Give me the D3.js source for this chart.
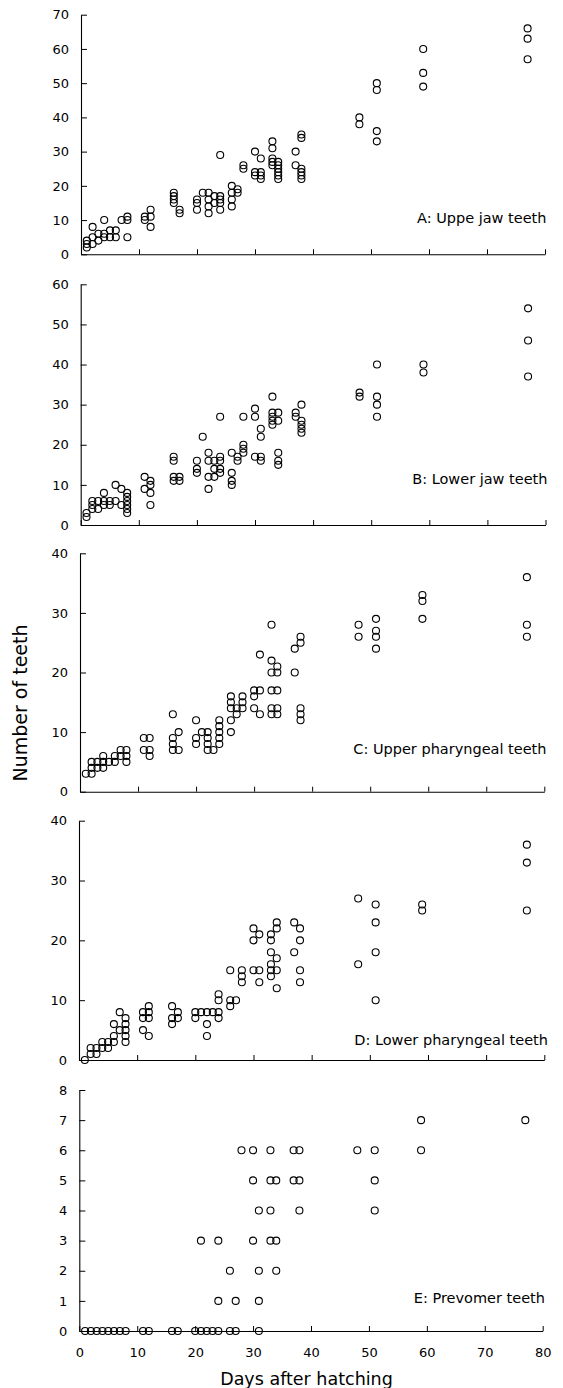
<!DOCTYPE html>
<html>
<head>
<meta charset="utf-8">
<script src="https://cdn.jsdelivr.net/npm/d3@7"></script>
<style>
  html, body { margin: 0; padding: 0; background: #fff; }
  svg { display: block; }
  text { font-family: "DejaVu Sans", sans-serif; fill: #000; }
</style>
</head>
<body>
<svg id="chart" width="563" height="1388"></svg>
<script>
// ---- Data: [day after hatching, number of teeth] ----
const upperJaw = [
  [1,2],[1,3],[1,4],[2,3],[2,5],[2,8],[3,4],[3,6],[4,5],[4,6],[4,10],[5,5],[5,7],[6,5],[6,7],[7,10],
  [8,5],[8,10],[8,11],[11,10],[11,11],[12,8],[12,11],[12,13],
  [16,15],[16,16],[16,17],[16,18],[17,12],[17,13],[20,13],[20,15],[20,16],[21,18],
  [22,12],[22,14],[22,16],[22,18],[23,15],[23,17],[24,13],[24,15],[24,16],[24,17],[24,29],
  [26,14],[26,16],[26,18],[26,20],[27,18],[27,19],[28,25],[28,26],[30,23],[30,24],[30,30],
  [31,22],[31,23],[31,24],[31,28],[33,26],[33,27],[33,28],[33,31],[33,33],
  [34,22],[34,23],[34,24],[34,25],[34,26],[34,27],[37,26],[37,30],
  [38,22],[38,23],[38,24],[38,25],[38,34],[38,35],[48,38],[48,40],
  [51,33],[51,36],[51,48],[51,50],[59,49],[59,53],[59,60],[77,57],[77,63],[77,66]
];
const lowerJaw = [
  [1,2],[1,3],[2,4],[2,5],[2,6],[3,4],[3,6],[4,5],[4,6],[4,8],[5,5],[5,6],[6,6],[6,10],[7,5],[7,9],
  [8,3],[8,4],[8,5],[8,6],[8,7],[8,8],[11,9],[11,12],[12,5],[12,8],[12,10],[12,11],
  [16,11],[16,12],[16,16],[16,17],[17,11],[17,12],[20,13],[20,14],[20,16],[21,22],
  [22,9],[22,12],[22,16],[22,18],[23,12],[23,14],[23,16],[24,13],[24,14],[24,16],[24,17],[24,27],
  [26,10],[26,11],[26,13],[26,18],[27,16],[27,17],[28,18],[28,19],[28,20],[28,27],
  [30,17],[30,27],[30,29],[31,16],[31,17],[31,22],[31,24],[33,25],[33,26],[33,27],[33,28],[33,32],
  [34,15],[34,16],[34,18],[34,26],[34,28],[37,27],[37,28],[38,23],[38,24],[38,25],[38,26],[38,30],
  [48,32],[48,33],[51,27],[51,30],[51,32],[51,40],[59,38],[59,40],[77,37],[77,46],[77,54]
];
const upperPharyngeal = [
  [1,3],[2,3],[2,4],[2,5],[3,4],[3,5],[4,4],[4,5],[4,6],[5,5],[6,5],[6,6],[7,6],[7,7],
  [8,5],[8,6],[8,7],[11,7],[11,9],[12,6],[12,7],[12,9],
  [16,7],[16,8],[16,9],[16,13],[17,7],[17,10],[20,8],[20,9],[20,12],[21,10],
  [22,7],[22,8],[22,9],[22,10],[23,7],[24,8],[24,9],[24,10],[24,11],[24,12],
  [26,10],[26,12],[26,14],[26,15],[26,16],[27,13],[27,14],[28,14],[28,15],[28,16],
  [30,14],[30,16],[30,17],[31,13],[31,17],[31,23],[33,13],[33,14],[33,17],[33,20],[33,22],[33,28],
  [34,13],[34,14],[34,17],[34,20],[34,21],[37,20],[37,24],[38,12],[38,13],[38,14],[38,25],[38,26],
  [48,26],[48,28],[51,24],[51,26],[51,27],[51,29],[59,29],[59,32],[59,33],[77,26],[77,28],[77,36]
];
const lowerPharyngeal = [
  [1,0],[2,1],[2,2],[3,1],[3,2],[4,2],[4,3],[5,2],[5,3],[6,3],[6,4],[6,6],[7,5],[7,8],
  [8,3],[8,4],[8,5],[8,6],[8,7],[11,5],[11,7],[11,8],[12,4],[12,7],[12,8],[12,9],
  [16,6],[16,7],[16,9],[17,7],[17,8],[20,7],[20,8],[21,8],[22,4],[22,6],[22,8],[23,8],
  [24,7],[24,8],[24,10],[24,11],[26,9],[26,10],[26,15],[27,10],[28,13],[28,14],[28,15],
  [30,15],[30,20],[30,22],[31,13],[31,15],[31,21],[33,14],[33,15],[33,16],[33,18],[33,20],[33,21],
  [34,12],[34,15],[34,17],[34,22],[34,23],[37,18],[37,23],[38,13],[38,15],[38,20],[38,22],
  [48,16],[48,27],[51,10],[51,18],[51,23],[51,26],[59,25],[59,26],[77,25],[77,33],[77,36]
];
const prevomer = [
  [1,0],[2,0],[3,0],[4,0],[5,0],[6,0],[7,0],[8,0],[11,0],[12,0],[16,0],[17,0],[20,0],[21,0],
  [22,0],[23,0],[24,0],[26,0],[27,0],[31,0],
  [21,3],[24,1],[24,3],[26,2],[27,1],[28,6],[30,3],[30,5],[30,6],[31,1],[31,2],[31,4],
  [33,3],[33,4],[33,5],[33,6],[34,2],[34,3],[34,5],[37,5],[37,6],[38,4],[38,5],[38,6],
  [48,6],[51,4],[51,5],[51,6],[59,6],[59,7],[77,7]
];

// ---- Tick labels & texts ----
const xTicks = [0, 10, 20, 30, 40, 50, 60, 70, 80];
const yTicksA = [0, 10, 20, 30, 40, 50, 60, 70];
const yTicksB = [0, 10, 20, 30, 40, 50, 60];
const yTicksC = [0, 10, 20, 30, 40];
const yTicksD = [0, 10, 20, 30, 40];
const yTicksE = [0, 1, 2, 3, 4, 5, 6, 7, 8];
const panelLabels = ["A: Uppe jaw teeth", "B: Lower jaw teeth", "C: Upper pharyngeal teeth",
                     "D: Lower pharyngeal teeth", "E: Prevomer teeth"];
const xTitle = "Days after hatching";
const yTitle = "Number of teeth";

// ---- Layout (positions only) ----
const layout = [
  { data: upperJaw,        ticks: yTicksA, left: 81,   right: 545,   top: 14.7,  bottom: 254.3, labelX: 546.5, labelY: 222.7 },
  { data: lowerJaw,        ticks: yTicksB, left: 80.7, right: 545.5, top: 284.3, bottom: 525,   labelX: 547.5, labelY: 484 },
  { data: upperPharyngeal, ticks: yTicksC, left: 80,   right: 544.3, top: 553.3, bottom: 791.7, labelX: 546.5, labelY: 754 },
  { data: lowerPharyngeal, ticks: yTicksD, left: 79,   right: 544.3, top: 820.7, bottom: 1060,  labelX: 548,   labelY: 1045 },
  { data: prevomer,        ticks: yTicksE, left: 79.3, right: 542.7, top: 1090,  bottom: 1331,  labelX: 545,   labelY: 1303.3 }
];

const svg = d3.select("#chart");

layout.forEach((p, i) => {
  const yMax = p.ticks[p.ticks.length - 1];
  const x = d3.scaleLinear().domain([0, 80]).range([p.left, p.right]);
  const y = d3.scaleLinear().domain([0, yMax]).range([p.bottom, p.top]);
  const g = svg.append("g");

  const isLast = i === layout.length - 1;
  const xAxis = d3.axisBottom(x).tickValues(xTicks).tickSizeInner(-5).tickSizeOuter(0)
    .tickPadding(17).tickFormat(isLast ? d3.format("d") : () => "");
  const gx = g.append("g").attr("transform", `translate(0,${p.bottom})`).call(xAxis);

  const yAxis = d3.axisLeft(y).tickValues(p.ticks).tickSizeInner(-6).tickSizeOuter(0)
    .tickPadding(12).tickFormat(d3.format("d"));
  const gy = g.append("g").attr("transform", `translate(${p.left},0)`).call(yAxis);

  [gx, gy].forEach(a => {
    a.select(".domain").attr("stroke", "#000").attr("stroke-width", 1.1);
    a.selectAll(".tick line").attr("stroke", "#000").attr("stroke-width", 1);
    a.selectAll(".tick text").attr("font-family", "DejaVu Sans").attr("font-size", 13).attr("fill", "#000");
  });

  g.append("g").selectAll("circle").data(p.data).join("circle")
    .attr("cx", d => x(d[0]))
    .attr("cy", d => y(d[1]))
    .attr("r", 3.5)
    .attr("fill", "none")
    .attr("stroke", "#000")
    .attr("stroke-width", 1.1);

  g.append("text")
    .attr("x", p.labelX).attr("y", p.labelY)
    .attr("text-anchor", "end")
    .attr("font-size", 14.5)
    .text(panelLabels[i]);
});

svg.append("text")
  .attr("x", 306.5).attr("y", 1385)
  .attr("text-anchor", "middle")
  .attr("font-size", 17.5)
  .text(xTitle);

svg.append("text")
  .attr("transform", "translate(27,703) rotate(-90)")
  .attr("text-anchor", "middle")
  .attr("font-size", 19)
  .text(yTitle);
</script>
</body>
</html>
